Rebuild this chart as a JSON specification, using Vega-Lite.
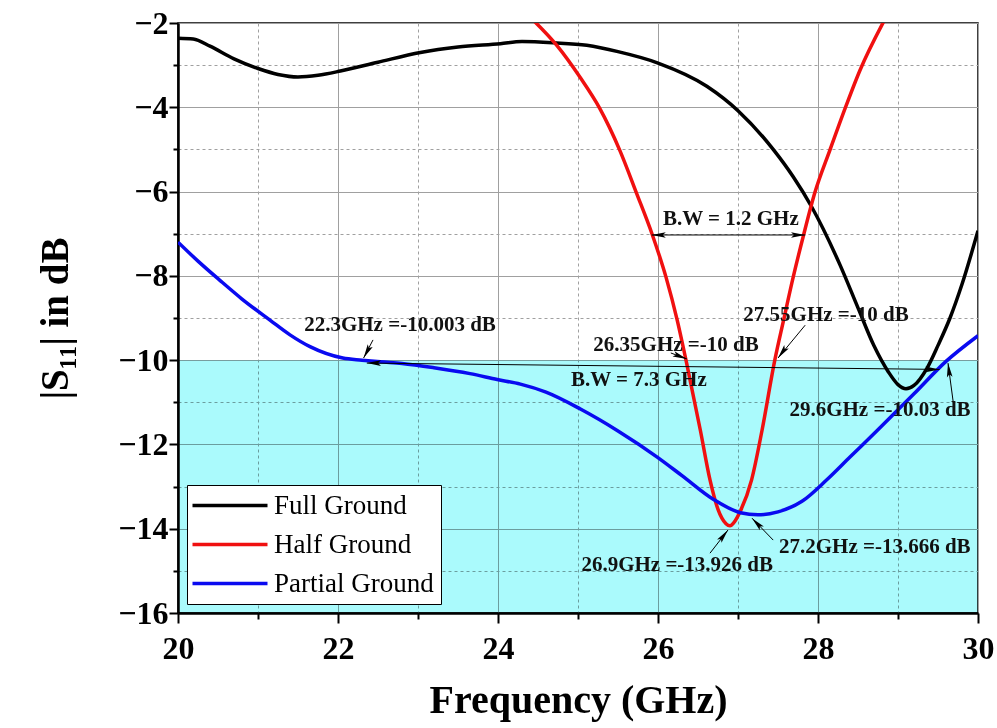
{
  "$schema": "https://vega.github.io/schema/vega-lite/v6.json",
  "width": 800,
  "height": 590,
  "autosize": {"type": "none"},
  "padding": {"left": 178, "top": 23, "right": 19, "bottom": 115},
  "background": "white",
  "config": {
    "view": {"stroke": "black", "strokeWidth": 1.5},
    "font": "Liberation Serif"
  },
  "layer": [
    {
      "data": {"values": [{"f_from": 20, "f_to": 30, "db_hi": -10, "db_lo": -16}]},
      "mark": {"type": "rect", "color": "#aafafc", "blend": "multiply"},
      "encoding": {
        "x": {"field": "f_from", "type": "quantitative", "scale": {"domain": [20, 30], "nice": false, "zero": false}},
        "x2": {"field": "f_to"},
        "y": {"field": "db_hi", "type": "quantitative", "scale": {"domain": [-16, -2], "nice": false, "zero": false}},
        "y2": {"field": "db_lo"}
      }
    },
    {
      "data": {"values": [
        {"series": "Full Ground", "f": 20.0, "s11": -2.36},
        {"series": "Full Ground", "f": 20.19, "s11": -2.38},
        {"series": "Full Ground", "f": 20.4, "s11": -2.55},
        {"series": "Full Ground", "f": 20.7, "s11": -2.85},
        {"series": "Full Ground", "f": 21.0, "s11": -3.08},
        {"series": "Full Ground", "f": 21.25, "s11": -3.22},
        {"series": "Full Ground", "f": 21.5, "s11": -3.28},
        {"series": "Full Ground", "f": 21.75, "s11": -3.24},
        {"series": "Full Ground", "f": 22.03, "s11": -3.14},
        {"series": "Full Ground", "f": 22.5, "s11": -2.93},
        {"series": "Full Ground", "f": 23.03, "s11": -2.7},
        {"series": "Full Ground", "f": 23.5, "s11": -2.57},
        {"series": "Full Ground", "f": 24.03, "s11": -2.49},
        {"series": "Full Ground", "f": 24.3, "s11": -2.44},
        {"series": "Full Ground", "f": 24.7, "s11": -2.47},
        {"series": "Full Ground", "f": 25.11, "s11": -2.53},
        {"series": "Full Ground", "f": 25.5, "s11": -2.68},
        {"series": "Full Ground", "f": 26.0, "s11": -2.95},
        {"series": "Full Ground", "f": 26.61, "s11": -3.5},
        {"series": "Full Ground", "f": 27.0, "s11": -4.08},
        {"series": "Full Ground", "f": 27.44, "s11": -5.0},
        {"series": "Full Ground", "f": 27.69, "s11": -5.65},
        {"series": "Full Ground", "f": 27.92, "s11": -6.36},
        {"series": "Full Ground", "f": 28.275, "s11": -7.74},
        {"series": "Full Ground", "f": 28.5, "s11": -8.76},
        {"series": "Full Ground", "f": 28.7, "s11": -9.66},
        {"series": "Full Ground", "f": 28.88, "s11": -10.28},
        {"series": "Full Ground", "f": 29.0, "s11": -10.58},
        {"series": "Full Ground", "f": 29.1, "s11": -10.68},
        {"series": "Full Ground", "f": 29.2, "s11": -10.6},
        {"series": "Full Ground", "f": 29.36, "s11": -10.2},
        {"series": "Full Ground", "f": 29.5, "s11": -9.65},
        {"series": "Full Ground", "f": 29.65, "s11": -9.0},
        {"series": "Full Ground", "f": 29.8, "s11": -8.2},
        {"series": "Full Ground", "f": 30.0, "s11": -6.93},
        {"series": "Half Ground", "f": 24.46, "s11": -1.97},
        {"series": "Half Ground", "f": 24.73, "s11": -2.52},
        {"series": "Half Ground", "f": 25.03, "s11": -3.3},
        {"series": "Half Ground", "f": 25.27, "s11": -4.02},
        {"series": "Half Ground", "f": 25.52, "s11": -5.01},
        {"series": "Half Ground", "f": 25.73, "s11": -6.03},
        {"series": "Half Ground", "f": 25.93, "s11": -7.03},
        {"series": "Half Ground", "f": 26.1, "s11": -8.03},
        {"series": "Half Ground", "f": 26.24, "s11": -9.05},
        {"series": "Half Ground", "f": 26.35, "s11": -10.0},
        {"series": "Half Ground", "f": 26.53, "s11": -11.67},
        {"series": "Half Ground", "f": 26.65, "s11": -12.84},
        {"series": "Half Ground", "f": 26.75, "s11": -13.54},
        {"series": "Half Ground", "f": 26.85, "s11": -13.88},
        {"series": "Half Ground", "f": 26.9, "s11": -13.93},
        {"series": "Half Ground", "f": 26.95, "s11": -13.85},
        {"series": "Half Ground", "f": 27.03, "s11": -13.58},
        {"series": "Half Ground", "f": 27.17, "s11": -12.84},
        {"series": "Half Ground", "f": 27.3, "s11": -11.67},
        {"series": "Half Ground", "f": 27.46, "s11": -10.0},
        {"series": "Half Ground", "f": 27.57, "s11": -9.05},
        {"series": "Half Ground", "f": 27.69, "s11": -8.03},
        {"series": "Half Ground", "f": 27.82, "s11": -7.03},
        {"series": "Half Ground", "f": 27.96, "s11": -6.03},
        {"series": "Half Ground", "f": 28.15, "s11": -5.01},
        {"series": "Half Ground", "f": 28.34, "s11": -4.02},
        {"series": "Half Ground", "f": 28.525, "s11": -3.12},
        {"series": "Half Ground", "f": 28.82, "s11": -1.97},
        {"series": "Partial Ground", "f": 20.0, "s11": -7.2},
        {"series": "Partial Ground", "f": 20.25, "s11": -7.65},
        {"series": "Partial Ground", "f": 20.52, "s11": -8.1},
        {"series": "Partial Ground", "f": 20.8, "s11": -8.55},
        {"series": "Partial Ground", "f": 21.15, "s11": -9.05},
        {"series": "Partial Ground", "f": 21.4, "s11": -9.4},
        {"series": "Partial Ground", "f": 21.65, "s11": -9.68},
        {"series": "Partial Ground", "f": 22.06, "s11": -9.95},
        {"series": "Partial Ground", "f": 22.3, "s11": -10.0},
        {"series": "Partial Ground", "f": 22.53, "s11": -10.04},
        {"series": "Partial Ground", "f": 22.8, "s11": -10.08},
        {"series": "Partial Ground", "f": 23.2, "s11": -10.18},
        {"series": "Partial Ground", "f": 23.65, "s11": -10.32},
        {"series": "Partial Ground", "f": 23.99, "s11": -10.46},
        {"series": "Partial Ground", "f": 24.28, "s11": -10.57},
        {"series": "Partial Ground", "f": 24.6, "s11": -10.76},
        {"series": "Partial Ground", "f": 25.03, "s11": -11.16},
        {"series": "Partial Ground", "f": 25.5, "s11": -11.68},
        {"series": "Partial Ground", "f": 25.99, "s11": -12.3},
        {"series": "Partial Ground", "f": 26.3, "s11": -12.74},
        {"series": "Partial Ground", "f": 26.69, "s11": -13.3},
        {"series": "Partial Ground", "f": 27.03, "s11": -13.62},
        {"series": "Partial Ground", "f": 27.25, "s11": -13.67},
        {"series": "Partial Ground", "f": 27.5, "s11": -13.6},
        {"series": "Partial Ground", "f": 27.8, "s11": -13.35},
        {"series": "Partial Ground", "f": 28.11, "s11": -12.84},
        {"series": "Partial Ground", "f": 28.4, "s11": -12.3},
        {"series": "Partial Ground", "f": 28.74, "s11": -11.67},
        {"series": "Partial Ground", "f": 29.2, "s11": -10.8},
        {"series": "Partial Ground", "f": 29.6, "s11": -10.03},
        {"series": "Partial Ground", "f": 30.0, "s11": -9.42}
      ]},
      "mark": {"type": "line", "strokeWidth": 3.5, "interpolate": "monotone", "clip": true},
      "encoding": {
        "x": {
          "field": "f", "type": "quantitative",
          "axis": {
            "title": "Frequency (GHz)",
            "values": [20, 21, 22, 23, 24, 25, 26, 27, 28, 29, 30],
            "format": "d",
            "labelExpr": "datum.value % 2 === 0 ? datum.label : ''",
            "grid": true,
            "gridColor": "#a0a0a0",
            "gridWidth": 1,
            "gridDash": {"condition": {"test": "datum.value % 2 === 0", "value": []}, "value": [3, 3]},
            "tickSize": {"condition": {"test": "datum.value % 2 === 0", "value": 10}, "value": 6},
            "tickColor": "black",
            "tickWidth": 2,
            "domainColor": "black",
            "domainWidth": 2.5,
            "labelFont": "Liberation Serif",
            "labelFontWeight": "bold",
            "labelFontSize": 32,
            "labelColor": "black",
            "labelPadding": 10,
            "labelFlush": false,
            "titleFont": "Liberation Serif",
            "titleFontWeight": "bold",
            "titleFontSize": 40,
            "titleColor": "black",
            "titlePadding": 16
          }
        },
        "y": {
          "field": "s11", "type": "quantitative",
          "axis": {
            "title": "|S₁₁| in dB",
            "values": [-16, -15, -14, -13, -12, -11, -10, -9, -8, -7, -6, -5, -4, -3, -2],
            "format": "d",
            "labelExpr": "datum.value % 2 === 0 ? datum.label : ''",
            "grid": true,
            "gridColor": "#a0a0a0",
            "gridWidth": 1,
            "gridDash": {"condition": {"test": "datum.value % 2 === 0", "value": []}, "value": [3, 3]},
            "tickSize": {"condition": {"test": "datum.value % 2 === 0", "value": 9}, "value": 5},
            "tickColor": "black",
            "tickWidth": 2,
            "domainColor": "black",
            "domainWidth": 2.5,
            "labelFont": "Liberation Serif",
            "labelFontWeight": "bold",
            "labelFontSize": 32,
            "labelColor": "black",
            "labelPadding": 1,
            "labelFlush": false,
            "titleFont": "Liberation Serif",
            "titleFontWeight": "bold",
            "titleFontSize": 39,
            "titleColor": "black",
            "titlePadding": 42
          }
        },
        "color": {
          "field": "series", "type": "nominal",
          "scale": {"domain": ["Full Ground", "Half Ground", "Partial Ground"], "range": ["#000000", "#f01010", "#0a0af0"]},
          "legend": {
            "orient": "none",
            "legendX": 9,
            "legendY": 462,
            "title": null,
            "fillColor": "white",
            "strokeColor": "black",
            "padding": 7,
            "symbolType": "M-5,0H20",
            "symbolSize": 36,
            "symbolStrokeWidth": 3.5,
            "labelFont": "Liberation Serif",
            "labelFontSize": 27,
            "labelColor": "black",
            "labelOffset": 53,
            "rowPadding": 11,
            "labelLimit": 300
          }
        }
      }
    },
    {
      "data": {"values": [
        {"f": 22.4375, "s11": -9.52, "f_end": 22.32, "s11_end": -9.95},
        {"f": 22.36, "s11": -10.07, "f_end": 29.52, "s11_end": -10.22},
        {"f": 25.92, "s11": -7.03, "f_end": 27.84, "s11_end": -7.03},
        {"f": 26.16, "s11": -9.83, "f_end": 26.36, "s11_end": -9.97},
        {"f": 27.84, "s11": -9.17, "f_end": 27.5, "s11_end": -9.95},
        {"f": 29.69, "s11": -10.99, "f_end": 29.625, "s11_end": -10.07},
        {"f": 26.65, "s11": -14.58, "f_end": 26.875, "s11_end": -14.03},
        {"f": 27.44, "s11": -14.27, "f_end": 27.175, "s11_end": -13.75}
      ]},
      "mark": {"type": "rule", "color": "black", "strokeWidth": 1},
      "encoding": {
        "x": {"field": "f", "type": "quantitative"},
        "y": {"field": "s11", "type": "quantitative"},
        "x2": {"field": "f_end"},
        "y2": {"field": "s11_end"}
      }
    },
    {
      "data": {"values": [
        {"f": 22.32, "s11": -9.95, "dir": 208},
        {"f": 22.36, "s11": -10.07, "dir": 270},
        {"f": 29.52, "s11": -10.22, "dir": 90},
        {"f": 25.92, "s11": -7.03, "dir": 270},
        {"f": 27.84, "s11": -7.03, "dir": 90},
        {"f": 26.36, "s11": -9.97, "dir": 111},
        {"f": 27.5, "s11": -9.95, "dir": 217},
        {"f": 29.625, "s11": -10.07, "dir": 353},
        {"f": 26.875, "s11": -14.03, "dir": 38},
        {"f": 27.175, "s11": -13.75, "dir": 316}
      ]},
      "mark": {"type": "point", "shape": "M0,0L0.4,2L0,1.6L-0.4,2Z", "filled": true, "color": "black", "opacity": 1, "size": 200},
      "encoding": {
        "x": {"field": "f", "type": "quantitative"},
        "y": {"field": "s11", "type": "quantitative"},
        "angle": {"field": "dir", "type": "quantitative", "scale": null}
      }
    },
    {
      "data": {"values": [
        {"f": 22.775, "s11": -9.17, "label": "22.3GHz =-10.003 dB"},
        {"f": 25.76, "s11": -10.47, "label": "B.W = 7.3 GHz"},
        {"f": 26.91, "s11": -6.66, "label": "B.W = 1.2 GHz"},
        {"f": 26.225, "s11": -9.64, "label": "26.35GHz =-10 dB"},
        {"f": 28.1, "s11": -8.93, "label": "27.55GHz =-10 dB"},
        {"f": 28.775, "s11": -11.18, "label": "29.6GHz =-10.03 dB"},
        {"f": 26.24, "s11": -14.86, "label": "26.9GHz =-13.926 dB"},
        {"f": 28.71, "s11": -14.43, "label": "27.2GHz =-13.666 dB"}
      ]},
      "mark": {"type": "text", "font": "Liberation Serif", "fontWeight": "bold", "fontSize": 21, "color": "#111111", "align": "center", "baseline": "middle"},
      "encoding": {
        "x": {"field": "f", "type": "quantitative"},
        "y": {"field": "s11", "type": "quantitative"},
        "text": {"field": "label"}
      }
    }
  ]
}
